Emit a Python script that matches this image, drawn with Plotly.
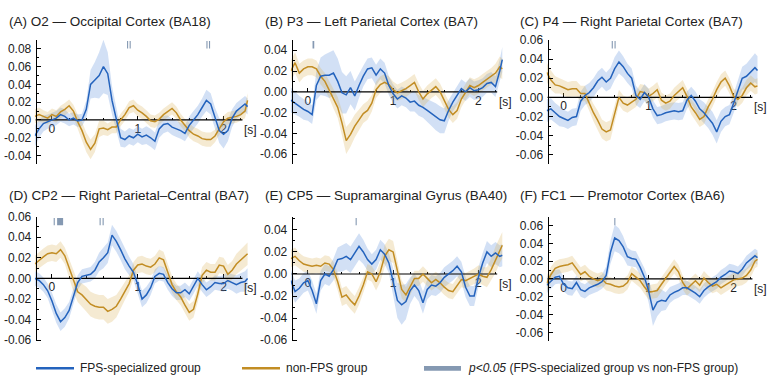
import plotly.graph_objects as go

# ---------------- data ----------------
T = [round(-0.2 + 0.05 * i, 2) for i in range(50)] + [2.28]

A_blue = [-0.018,-0.01,-0.004,-0.002,0.0, 0.002,0.006,0.004,0.0,0.002,
          -0.001,0.0,0.012,0.04,0.045, 0.05,0.06,0.052,0.022,0.0,
          -0.02,-0.022,-0.018,-0.02,-0.016, -0.019,-0.017,-0.02,-0.024,-0.01,
          -0.005,-0.004,-0.008,-0.01,-0.012, -0.015,-0.006,0.0,0.006,0.014,
          0.022,0.018,0.002,-0.012,-0.016, -0.012,0.002,0.01,0.014,0.018, 0.015]
A_gold = [0.004,0.006,0.004,0.002,0.006, 0.004,0.009,0.012,0.016,0.01,
          -0.002,-0.012,-0.025,-0.033,-0.026, -0.01,-0.009,-0.011,-0.008,-0.008,
          0.0,0.006,0.014,0.016,0.011, 0.008,0.004,-0.001,-0.002,0.001,
          0.006,0.01,0.013,0.008,0.0, -0.006,-0.012,-0.016,-0.018,-0.021,
          -0.022,-0.022,-0.018,-0.01,-0.002, 0.002,0.003,0.004,0.006,0.01, 0.022]
A_blue_se = [0.012,0.01,0.009,0.008,0.008, 0.008,0.008,0.008,0.007,0.007,
             0.007,0.007,0.01,0.016,0.02, 0.026,0.03,0.024,0.016,0.012,
             0.01,0.009,0.009,0.009,0.009, 0.009,0.01,0.01,0.01,0.01,
             0.01,0.009,0.009,0.009,0.009, 0.009,0.01,0.01,0.01,0.01,
             0.012,0.012,0.012,0.014,0.016, 0.012,0.01,0.009,0.009,0.009, 0.009]
A_gold_se = [0.008,0.008,0.007,0.007,0.007, 0.007,0.007,0.007,0.007,0.007,
             0.008,0.01,0.011,0.011,0.01, 0.009,0.008,0.007,0.007,0.007,
             0.007,0.007,0.007,0.007,0.007, 0.007,0.007,0.007,0.007,0.007,
             0.007,0.007,0.007,0.007,0.007, 0.007,0.008,0.008,0.008,0.008,
             0.008,0.008,0.007,0.007,0.007, 0.007,0.007,0.007,0.007,0.008, 0.008]

B_blue = [-0.008,-0.011,-0.014,-0.017,-0.019, -0.022,0.006,0.015,0.016,0.016,
          0.018,0.01,-0.001,-0.003,0.004, -0.004,0.006,0.015,0.022,0.023,
          0.016,0.022,0.018,0.006,-0.002, -0.007,-0.004,-0.006,-0.01,-0.009,
          -0.013,-0.015,-0.018,-0.021,-0.024, -0.027,-0.028,-0.018,-0.01,-0.004,
          0.003,0.0,0.004,0.001,0.002, 0.004,0.008,0.009,0.005,0.02, 0.031]
B_gold = [0.02,0.028,0.018,0.022,0.024, 0.024,0.022,0.015,0.01,0.002,
          -0.007,-0.015,-0.03,-0.047,-0.041, -0.033,-0.027,-0.021,-0.018,-0.011,
          0.002,0.007,0.009,0.007,0.002, -0.001,0.001,0.003,0.006,0.009,
          0.0,-0.007,-0.002,0.002,0.005, 0.0,-0.008,-0.017,-0.022,-0.018,
          -0.007,0.0,0.006,0.004,0.006, 0.009,0.012,0.015,0.018,0.024, 0.022]
B_blue_se = [0.012,0.011,0.01,0.01,0.009, 0.009,0.014,0.018,0.02,0.022,
             0.022,0.022,0.02,0.018,0.016, 0.014,0.012,0.01,0.01,0.01,
             0.01,0.01,0.01,0.009,0.009, 0.009,0.009,0.009,0.009,0.01,
             0.01,0.01,0.011,0.012,0.013, 0.013,0.012,0.01,0.009,0.009,
             0.009,0.009,0.009,0.009,0.009, 0.009,0.009,0.01,0.01,0.011, 0.012]
B_gold_se = [0.01,0.01,0.009,0.008,0.008, 0.008,0.008,0.008,0.008,0.008,
             0.009,0.01,0.012,0.013,0.012, 0.011,0.01,0.009,0.009,0.008,
             0.008,0.008,0.008,0.008,0.008, 0.008,0.008,0.008,0.008,0.008,
             0.008,0.008,0.008,0.008,0.008, 0.008,0.008,0.008,0.008,0.008,
             0.008,0.008,0.008,0.008,0.008, 0.008,0.008,0.008,0.009,0.01, 0.01]

C_blue = [-0.014,-0.012,-0.016,-0.02,-0.022, -0.024,-0.021,-0.02,-0.004,0.002,
          0.005,0.01,0.017,0.021,0.016, 0.02,0.03,0.037,0.032,0.025,
          0.02,0.002,-0.002,0.005,0.0, -0.012,-0.019,-0.018,-0.016,-0.015,
          -0.014,-0.015,-0.014,-0.003,0.002, -0.004,-0.012,-0.016,-0.021,-0.027,
          -0.036,-0.025,-0.02,-0.018,-0.006, 0.008,0.02,0.022,0.026,0.031, 0.028]
C_gold = [0.026,0.018,0.013,0.012,0.01, 0.008,0.009,0.009,0.004,0.004,
          -0.006,-0.016,-0.024,-0.033,-0.036, -0.034,-0.017,0.0,-0.006,-0.008,
          -0.005,-0.002,0.006,0.005,0.001, 0.004,0.008,-0.003,-0.006,-0.004,
          0.002,0.006,0.01,0.001,-0.01, -0.016,-0.023,-0.02,-0.01,-0.002,
          0.008,0.016,0.02,0.012,0.001, -0.002,0.002,0.01,0.015,0.011, 0.012]
C_blue_se = [0.012,0.011,0.01,0.01,0.009, 0.009,0.009,0.009,0.01,0.01,
             0.01,0.01,0.01,0.01,0.01, 0.011,0.012,0.012,0.011,0.01,
             0.01,0.01,0.009,0.009,0.009, 0.009,0.009,0.009,0.009,0.009,
             0.009,0.009,0.009,0.009,0.009, 0.01,0.01,0.011,0.011,0.012,
             0.012,0.011,0.01,0.01,0.01, 0.011,0.012,0.013,0.014,0.015, 0.015]
C_gold_se = [0.01,0.01,0.009,0.008,0.008, 0.008,0.008,0.008,0.008,0.008,
             0.008,0.009,0.01,0.01,0.01, 0.01,0.009,0.008,0.008,0.008,
             0.008,0.008,0.008,0.008,0.008, 0.008,0.008,0.008,0.008,0.008,
             0.008,0.008,0.008,0.008,0.008, 0.008,0.008,0.008,0.008,0.008,
             0.008,0.008,0.008,0.008,0.008, 0.008,0.008,0.008,0.008,0.008, 0.008]

D_blue = [0.0,-0.002,-0.006,-0.012,-0.022, -0.034,-0.042,-0.038,-0.031,-0.018,
          -0.004,0.002,0.003,0.004,0.008, 0.016,0.02,0.025,0.042,0.036,
          0.028,0.019,0.012,0.006,-0.006, -0.02,-0.016,-0.009,0.002,0.005,
          0.004,-0.004,-0.01,-0.014,-0.014, -0.011,-0.015,-0.008,0.0,-0.006,
          -0.011,-0.008,-0.004,-0.005,-0.005, -0.002,-0.004,-0.006,-0.004,-0.003, 0.0]
D_gold = [0.014,0.018,0.021,0.024,0.025, 0.024,0.028,0.022,0.01,-0.003,
          -0.013,-0.016,-0.02,-0.025,-0.027, -0.028,-0.028,-0.032,-0.03,-0.027,
          -0.02,-0.012,-0.005,0.008,0.013, 0.014,0.012,0.011,0.014,0.02,
          0.018,0.006,-0.006,-0.013,-0.018, -0.026,-0.033,-0.03,-0.015,0.003,
          0.008,0.006,0.006,0.013,0.012, 0.004,0.008,0.014,0.018,0.022, 0.024]
D_blue_se = [0.007,0.007,0.007,0.007,0.008, 0.009,0.009,0.009,0.008,0.008,
             0.007,0.007,0.007,0.007,0.008, 0.009,0.01,0.01,0.01,0.01,
             0.01,0.01,0.009,0.008,0.008, 0.008,0.008,0.007,0.007,0.007,
             0.007,0.007,0.007,0.007,0.007, 0.007,0.007,0.007,0.007,0.007,
             0.007,0.007,0.007,0.007,0.008, 0.008,0.008,0.009,0.009,0.01, 0.01]
D_gold_se = [0.008,0.008,0.008,0.008,0.008, 0.008,0.008,0.008,0.009,0.01,
             0.01,0.011,0.012,0.012,0.012, 0.012,0.012,0.012,0.012,0.011,
             0.01,0.009,0.008,0.008,0.008, 0.008,0.008,0.008,0.008,0.008,
             0.008,0.008,0.008,0.008,0.008, 0.008,0.008,0.008,0.008,0.008,
             0.008,0.008,0.008,0.008,0.008, 0.009,0.009,0.01,0.01,0.011, 0.011]

E_blue = [-0.006,-0.016,-0.013,-0.008,-0.006, -0.015,-0.027,-0.006,0.0,-0.002,
          0.004,0.013,0.014,0.016,0.013, 0.019,0.025,0.02,0.013,0.009,
          0.013,0.022,0.018,0.01,-0.006, -0.024,-0.028,-0.025,-0.015,-0.01,
          -0.015,-0.026,-0.014,-0.01,-0.011, -0.008,-0.003,0.0,0.003,0.007,
          0.002,-0.012,-0.02,-0.02,-0.003, 0.01,0.02,0.016,0.019,0.016, 0.017]
E_gold = [0.014,0.016,0.012,0.009,0.008, 0.007,0.008,0.007,0.01,0.009,
          0.004,-0.007,-0.021,-0.019,-0.024, -0.028,-0.02,-0.01,0.002,0.0,
          -0.007,0.002,0.016,0.022,0.02, 0.002,-0.014,-0.019,-0.012,-0.004,
          -0.004,0.0,-0.004,-0.008,-0.005, -0.008,-0.012,-0.015,-0.016,-0.01,
          -0.005,-0.006,-0.004,-0.002,0.0, -0.002,-0.003,0.004,0.013,0.022, 0.026]
E_blue_se = [0.01,0.01,0.009,0.009,0.009, 0.009,0.009,0.009,0.009,0.009,
             0.01,0.011,0.012,0.012,0.012, 0.012,0.012,0.011,0.01,0.009,
             0.009,0.009,0.009,0.009,0.012, 0.016,0.018,0.016,0.012,0.01,
             0.01,0.01,0.009,0.009,0.009, 0.009,0.009,0.009,0.009,0.009,
             0.009,0.009,0.009,0.009,0.009, 0.009,0.01,0.01,0.01,0.01, 0.01]
E_gold_se = [0.008,0.008,0.007,0.007,0.007, 0.007,0.007,0.007,0.007,0.007,
             0.007,0.008,0.008,0.008,0.008, 0.008,0.008,0.007,0.007,0.007,
             0.008,0.009,0.01,0.01,0.01, 0.009,0.008,0.007,0.007,0.007,
             0.007,0.007,0.007,0.007,0.007, 0.007,0.007,0.007,0.007,0.007,
             0.007,0.007,0.007,0.007,0.008, 0.008,0.009,0.01,0.012,0.012, 0.012]

F_blue = [-0.007,-0.002,0.002,0.003,-0.006, -0.01,-0.011,-0.004,-0.012,-0.014,
          -0.01,-0.008,-0.006,-0.003,0.004, 0.03,0.046,0.043,0.036,0.025,
          0.023,0.022,0.013,0.002,-0.014, -0.035,-0.026,-0.024,-0.025,-0.018,
          -0.015,-0.013,-0.01,-0.01,-0.013, -0.016,-0.02,-0.013,-0.009,-0.006,
          -0.003,0.002,0.005,0.009,0.008, 0.006,0.011,0.018,0.022,0.026, 0.024]
F_gold = [-0.005,0.005,0.012,0.014,0.015, 0.016,0.018,0.012,0.005,0.008,
          0.003,0.0,-0.002,0.0,-0.005, -0.006,-0.008,-0.009,-0.008,-0.004,
          0.006,0.002,-0.002,-0.009,-0.015, -0.014,-0.013,-0.006,0.001,0.008,
          0.014,0.008,-0.004,-0.011,-0.006, -0.002,-0.007,0.001,-0.004,-0.008,
          -0.006,-0.01,-0.007,-0.004,-0.001, 0.0,0.001,0.004,0.01,0.02, 0.022]
F_blue_se = [0.009,0.009,0.008,0.008,0.008, 0.008,0.008,0.008,0.008,0.008,
             0.008,0.008,0.008,0.008,0.01, 0.013,0.015,0.014,0.012,0.01,
             0.009,0.009,0.009,0.01,0.013, 0.018,0.016,0.012,0.01,0.009,
             0.008,0.008,0.008,0.008,0.008, 0.008,0.008,0.008,0.008,0.008,
             0.008,0.008,0.008,0.008,0.008, 0.008,0.008,0.008,0.008,0.008, 0.008]
F_gold_se = [0.009,0.009,0.008,0.008,0.008, 0.008,0.008,0.008,0.008,0.008,
             0.008,0.008,0.008,0.008,0.008, 0.008,0.008,0.008,0.008,0.008,
             0.008,0.008,0.008,0.008,0.008, 0.008,0.008,0.008,0.008,0.008,
             0.008,0.008,0.008,0.008,0.008, 0.008,0.008,0.008,0.008,0.008,
             0.008,0.008,0.008,0.008,0.008, 0.008,0.008,0.008,0.008,0.008, 0.008]

TITLES = ["(A) O2 — Occipital Cortex (BA18)",
          "(B) P3 — Left Parietal Cortex (BA7)",
          "(C) P4 — Right Parietal Cortex (BA7)",
          "(D) CP2 — Right Parietal–Central (BA7)",
          "(E) CP5 — Supramarginal Gyrus (BA40)",
          "(F) FC1 — Premotor Cortex (BA6)"]

SIG = [[(0.875, 0.888), (0.905, 0.918), (1.80, 1.813), (1.83, 1.843)],
       [(0.055, 0.075)],
       [(0.565, 0.578), (0.598, 0.611)],
       [(0.02, 0.033), (0.06, 0.13), (0.555, 0.568), (0.59, 0.603)],
       [(0.56, 0.573)],
       [(0.595, 0.608)]]

SERIES = [(A_blue, A_blue_se, A_gold, A_gold_se),
          (B_blue, B_blue_se, B_gold, B_gold_se),
          (C_blue, C_blue_se, C_gold, C_gold_se),
          (D_blue, D_blue_se, D_gold, D_gold_se),
          (E_blue, E_blue_se, E_gold, E_gold_se),
          (F_blue, F_blue_se, F_gold, F_gold_se)]

YRANGES = [(-0.05, 0.09), (-0.07, 0.05), (-0.07, 0.06),
           (-0.061, 0.06), (-0.061, 0.052), (-0.07, 0.07)]
YTICKS = [(-0.04, 0.08), (-0.06, 0.04), (-0.06, 0.06),
          (-0.06, 0.06), (-0.06, 0.04), (-0.06, 0.06)]
AX0 = [-0.19, -0.19, -0.19, -0.19, -0.19, -0.19]

for s in SERIES:
    for arr in s:
        assert len(arr) == len(T), len(arr)

# ---------------- styling / layout ----------------
W, H = 767, 383
FONT = "Liberation Sans, Arial, sans-serif"
BLUE = "#2463bd"
GOLD = "#c28d24"
BLUE_FILL = "rgba(95,145,220,0.28)"
GOLD_FILL = "rgba(215,172,80,0.26)"
SIGC = "#8599b2"
XR = (-0.2, 2.3)
XEND = 2.22

COLS = [(34.8, 249.3), (290.8, 504.0), (546.7, 759.2)]
ROWS = [(34, 163), (217, 346)]
TITLE_X = [7, 263, 518]
TITLE_Y = [15, 195]


def px(p):
    return p / W


def py(p):
    return 1 - p / H


fig = go.Figure()
layout = dict(width=W, height=H, margin=dict(l=0, r=0, t=0, b=0),
              paper_bgcolor="white", plot_bgcolor="rgba(0,0,0,0)",
              showlegend=False, font=dict(family=FONT, color="#222"))
annotations = []
shapes = []

for i in range(6):
    r, c = divmod(i, 3)
    n = i + 1
    xs = "x" if n == 1 else f"x{n}"
    ys = "y" if n == 1 else f"y{n}"
    xd = [px(COLS[c][0]), px(COLS[c][1])]
    yd = [py(ROWS[r][1]), py(ROWS[r][0])]
    y0, y1 = YRANGES[i]
    zero_pos = yd[0] + (0 - y0) / (y1 - y0) * (yd[1] - yd[0])
    yax_pos = xd[0] + (AX0[i] - XR[0]) / (XR[1] - XR[0]) * (xd[1] - xd[0])

    blue, blue_se, gold, gold_se = SERIES[i]
    for vals, se, fillc in ((blue, blue_se, BLUE_FILL), (gold, gold_se, GOLD_FILL)):
        up = [v + e for v, e in zip(vals, se)]
        lo = [v - e for v, e in zip(vals, se)]
        fig.add_trace(go.Scatter(x=T + T[::-1], y=up + lo[::-1], fill="toself",
                                 fillcolor=fillc, line=dict(width=0), mode="lines",
                                 hoverinfo="skip", xaxis=xs, yaxis=ys))
    # horizontal axis line
    fig.add_trace(go.Scatter(x=[AX0[i], XEND], y=[0, 0], mode="lines",
                             line=dict(color="black", width=1.2),
                             hoverinfo="skip", xaxis=xs, yaxis=ys))
    fig.add_trace(go.Scatter(x=T, y=gold, mode="lines",
                             line=dict(color=GOLD, width=1.5), xaxis=xs, yaxis=ys))
    fig.add_trace(go.Scatter(x=T, y=blue, mode="lines",
                             line=dict(color=BLUE, width=1.5), xaxis=xs, yaxis=ys))

    t0, t1 = YTICKS[i]
    yt = [round(t0 + 0.02 * k, 2) for k in range(int(round((t1 - t0) / 0.02)) + 1)]
    xminor = [round(0.2 * k, 1) for k in range(1, 12) if k % 5 != 0]

    layout["xaxis" if n == 1 else f"xaxis{n}"] = dict(
        domain=xd, range=list(XR), anchor="free", position=zero_pos,
        showline=False, zeroline=False, showgrid=False,
        ticks="inside", ticklen=4, tickwidth=1, tickcolor="black",
        tickvals=[0, 1, 2], ticktext=["0", "1", "2"],
        tickfont=dict(size=12, color="#222", family=FONT),
        minor=dict(ticks="inside", ticklen=2, tickwidth=1, tickcolor="black",
                   tickvals=xminor),
        layer="below traces", fixedrange=True)
    layout["yaxis" if n == 1 else f"yaxis{n}"] = dict(
        domain=yd, range=[y0, y1], anchor="free", position=yax_pos,
        showline=True, linecolor="black", linewidth=1,
        zeroline=False, showgrid=False,
        ticks="inside", ticklen=4, tickwidth=1, tickcolor="black",
        tickvals=yt, ticktext=[f"{v:.2f}" for v in yt],
        tickfont=dict(size=12, color="#222", family=FONT),
        ticklabelstandoff=2,
        minor=dict(ticks="inside", ticklen=2, tickwidth=1, tickcolor="black",
                   dtick=0.01, tick0=0),
        layer="above traces", fixedrange=True)

    annotations.append(dict(xref=xs, yref=ys, x=XEND, y=0, text="[s]",
                            showarrow=False, xanchor="left", yanchor="top",
                            yshift=-1, font=dict(size=12, color="#222", family=FONT)))
    annotations.append(dict(xref="paper", yref="paper", x=px(TITLE_X[c]),
                            y=py(TITLE_Y[r]), text=TITLES[i], showarrow=False,
                            xanchor="left", yanchor="middle",
                            font=dict(size=13.5, color="#222", family=FONT)))
    for (a, b) in SIG[i]:
        shapes.append(dict(type="rect", xref=xs, yref=f"{ys} domain",
                           x0=a, x1=b, y0=0.93, y1=0.99,
                           fillcolor=SIGC, line=dict(width=0), layer="above"))

# ---------------- legend (manual) ----------------
LY = 374
shapes.append(dict(type="line", xref="paper", yref="paper", x0=px(36), x1=px(74),
                   y0=py(LY), y1=py(LY), line=dict(color=BLUE, width=2.5)))
shapes.append(dict(type="line", xref="paper", yref="paper", x0=px(242), x1=px(280),
                   y0=py(LY), y1=py(LY), line=dict(color=GOLD, width=2.5)))
shapes.append(dict(type="rect", xref="paper", yref="paper", x0=px(424), x1=px(461),
                   y0=py(LY + 2.5), y1=py(LY - 2.5), fillcolor=SIGC, line=dict(width=0)))
for x, txt in ((78, "FPS-specialized group"), (284, "non-FPS group"),
               (466, "<i>p&lt;0.05</i> (FPS-specialized group vs non-FPS group)")):
    annotations.append(dict(xref="paper", yref="paper", x=px(x), y=py(LY),
                            text=txt, showarrow=False, xanchor="left",
                            yanchor="middle",
                            font=dict(size=12, color="#222", family=FONT)))

layout["annotations"] = annotations
layout["shapes"] = shapes
fig.update_layout(**layout)
fig.write_html("out.html")
